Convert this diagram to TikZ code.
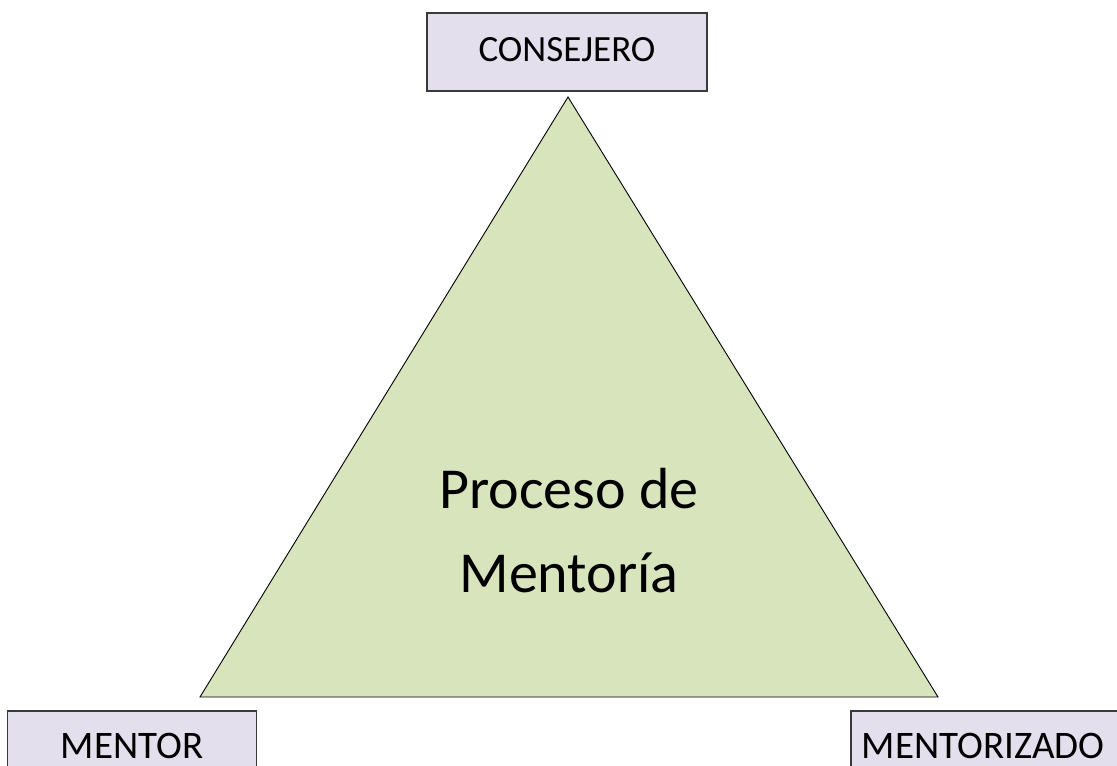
\documentclass[tikz,border=0pt]{standalone}
\usepackage{fontspec}
\setmainfont{Carlito}
\definecolor{boxfill}{HTML}{E4DFEC}
\definecolor{trifill}{HTML}{D8E4BC}
\definecolor{boxline}{HTML}{3A3A3A}
\begin{document}
\begin{tikzpicture}[x=1pt,y=-1pt,
  rolebox/.style={draw=boxline, line width=1.3pt, fill=boxfill, inner sep=0pt,
    minimum height=78pt, text height=26pt, text depth=8pt},
  cutbox/.style={fill=boxfill, inner sep=0pt, anchor=north,
    minimum height=55pt, text height=39pt, text depth=0pt,
    font=\fontsize{39}{42}\selectfont},
  boxedge/.style={draw=boxline, line width=1.3pt},
  tri/.style={draw=black, line width=0.9pt, fill=trifill, line join=miter},
  centertext/.style={align=center, font=\fontsize{58}{84}\selectfont, inner sep=0pt}]
\useasboundingbox (0,0) rectangle (1117,766);
\fill[white] (0,0) rectangle (1117,766);
% triangle
\coordinate (apex) at (568,97);
\coordinate (bl) at (200,697);
\coordinate (br) at (938,697);
\draw[tri] (apex) -- (bl) -- (br) -- cycle;
\node[centertext] (proc) at (569,531) {Proceso de\\Mentoría};
% role boxes
\node[rolebox, minimum width=280pt, font=\fontsize{37}{40}\selectfont] (consejero) at (567,52) {CONSEJERO};
\node[cutbox, minimum width=248pt] (mentor) at (132,711) {MENTOR};
\draw[boxedge] (mentor.south west) -- (mentor.north west) -- (mentor.north east) -- (mentor.south east);
\node[cutbox, minimum width=264pt, anchor=north west] (mentorizado) at (851,711) {MENTORIZADO};
\fill[boxfill] (mentorizado.north east) rectangle (1117,766);
\draw[boxedge] (mentorizado.south west) -- (mentorizado.north west) -- (1117,711);
\end{tikzpicture}
\end{document}
